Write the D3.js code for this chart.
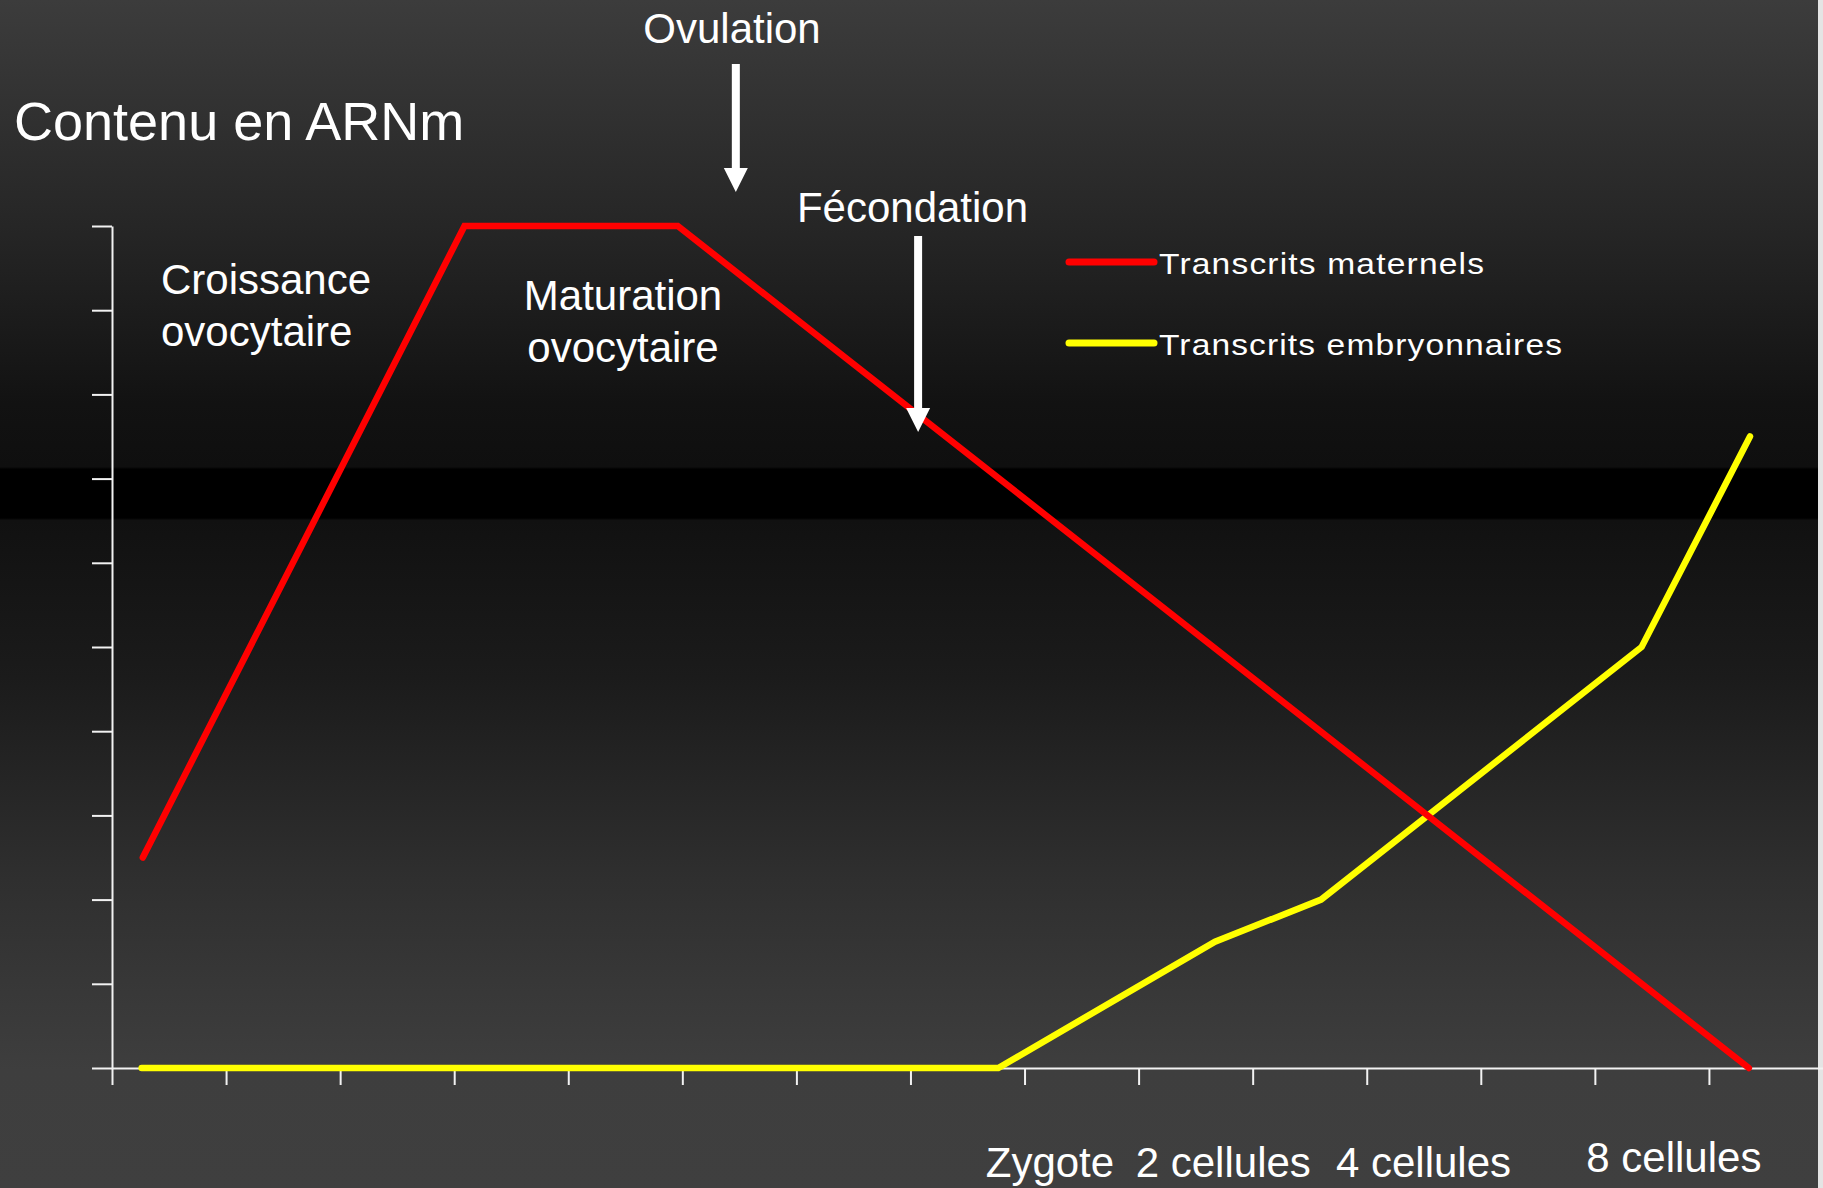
<!DOCTYPE html>
<html>
<head>
<meta charset="utf-8">
<script src="https://cdn.jsdelivr.net/npm/d3@7/dist/d3.min.js"></script>
<style>
  html, body { margin: 0; padding: 0; background: #000; }
  svg { display: block; }
  text { font-family: "Liberation Sans", Arial, sans-serif; fill: #ffffff; }
</style>
</head>
<body>
<svg id="chart" width="1823" height="1188"></svg>
<script>
// Stage along the time axis (arbitrary units) and mRNA content (arbitrary units 0–10)
const maternalX = [0.27, 3.09, 4.96, 14.35];
const maternalY = [2.5, 10, 10, 0];
const embryonicX = [0.26, 7.77, 9.67, 10.6, 13.41, 14.36];
const embryonicY = [0, 0, 1.5, 2, 5, 7.5];

const seriesNames = ["Transcrits maternels", "Transcrits embryonnaires"];
const seriesColors = ["#ff0000", "#ffff00"];

const xTicks = d3.range(0, 15);
const yTicks = d3.range(0, 11);

const stageLabels = ["Zygote", "2 cellules", "4 cellules", "8 cellules"];
const stageStarts = [7.66, 8.975, 10.73, 12.925];

const svg = d3.select("#chart");
const W = 1823, H = 1188;

// Background: dark vertical gradient with a black band
const defs = svg.append("defs");
const grad = defs.append("linearGradient")
  .attr("id", "bg").attr("x1", 0).attr("y1", 0).attr("x2", 0).attr("y2", 1);
[
  [0, "#3c3c3c"], [0.19, "#262626"], [0.34, "#121212"], [0.393, "#0f0f0f"],
  [0.395, "#000000"], [0.436, "#000000"], [0.438, "#111111"],
  [0.57, "#1b1b1b"], [0.74, "#2f2f2f"], [0.9, "#3e3e3e"], [1, "#3f3f3f"]
].forEach(([o, c]) => grad.append("stop").attr("offset", o).attr("stop-color", c));
svg.append("rect").attr("width", W).attr("height", H).attr("fill", "url(#bg)");
svg.append("rect").attr("x", 1818).attr("width", 5).attr("height", H).attr("fill", "#e4e4e4");

const x = d3.scaleLinear().domain([0, 15]).range([112, 1823]);
const y = d3.scaleLinear().domain([0, 10]).range([1068, 226]);

// Axes without labels
const gx = svg.append("g").attr("transform", `translate(0,${y(0)})`)
  .call(d3.axisBottom(x).tickValues(xTicks).tickSize(17).tickSizeOuter(0).tickFormat(""));
const gy = svg.append("g").attr("transform", `translate(${x(0)},0)`)
  .call(d3.axisLeft(y).tickValues(yTicks).tickSize(20).tickSizeOuter(0).tickFormat(""));
[gx, gy].forEach(g => {
  g.selectAll("path, line").attr("stroke", "#f2f2f2").attr("stroke-width", 2);
});

// Series lines
const line = d3.line().x(d => x(d[0])).y(d => y(d[1]));
const series = [
  d3.zip(maternalX, maternalY),
  d3.zip(embryonicX, embryonicY)
];
// embryonic drawn first so the maternal line sits above it where they meet
[1, 0].forEach(i => {
  svg.append("path")
    .datum(series[i])
    .attr("d", line)
    .attr("fill", "none")
    .attr("stroke", seriesColors[i])
    .attr("stroke-width", 6.5)
    .attr("stroke-linecap", "round")
    .attr("stroke-linejoin", "miter");
});

// Title
svg.append("text").attr("x", 14).attr("y", 140)
  .style("font-size", "54px").text("Contenu en ARNm");

// Phase labels
function multiline(xp, y0, lines, size, anchor) {
  const t = svg.append("text").attr("text-anchor", anchor).style("font-size", size + "px");
  lines.forEach((s, i) => t.append("tspan").attr("x", xp).attr("y", y0 + i * 51.5).text(s));
}
multiline(161, 294, ["Croissance", "ovocytaire"], 42, "start");
multiline(623, 310, ["Maturation", "ovocytaire"], 42, "middle");

// Event annotations with down arrows
function event(label, cx, textY) {
  svg.append("text").attr("x", cx).attr("y", textY).attr("text-anchor", "middle")
    .style("font-size", "42px").text(label);
}
function arrow(ax, top, tip) {
  svg.append("line").attr("x1", ax).attr("x2", ax).attr("y1", top).attr("y2", tip - 20)
    .attr("stroke", "#ffffff").attr("stroke-width", 8);
  svg.append("path")
    .attr("d", `M${ax - 12},${tip - 24} L${ax + 12},${tip - 24} L${ax},${tip} Z`)
    .attr("fill", "#ffffff");
}
event("Ovulation", 732, 42.5);
arrow(x(5.469), 64, 192);
event("Fécondation", 912.5, 221.5);
arrow(x(7.067), 236, 432);

// Legend (text is slightly stretched horizontally)
const legendY = [262, 343];
seriesNames.forEach((name, i) => {
  svg.append("line").attr("x1", 1069).attr("x2", 1154)
    .attr("y1", legendY[i]).attr("y2", legendY[i])
    .attr("stroke", seriesColors[i]).attr("stroke-width", 7).attr("stroke-linecap", "round");
  svg.append("text")
    .attr("transform", `translate(1159,${legendY[i] + 11.5}) scale(1.12,1)`)
    .style("font-size", "30px")
    .attr("textLength", (i === 0 ? 325 : 403) / 1.12).attr("lengthAdjust", "spacing")
    .text(name);
});

// Developmental stage labels under the axis
stageLabels.forEach((s, i) => {
  svg.append("text").attr("x", x(stageStarts[i])).attr("y", i === 3 ? 1172 : 1177)
    .style("font-size", "42px").text(s);
});
</script>
</body>
</html>
